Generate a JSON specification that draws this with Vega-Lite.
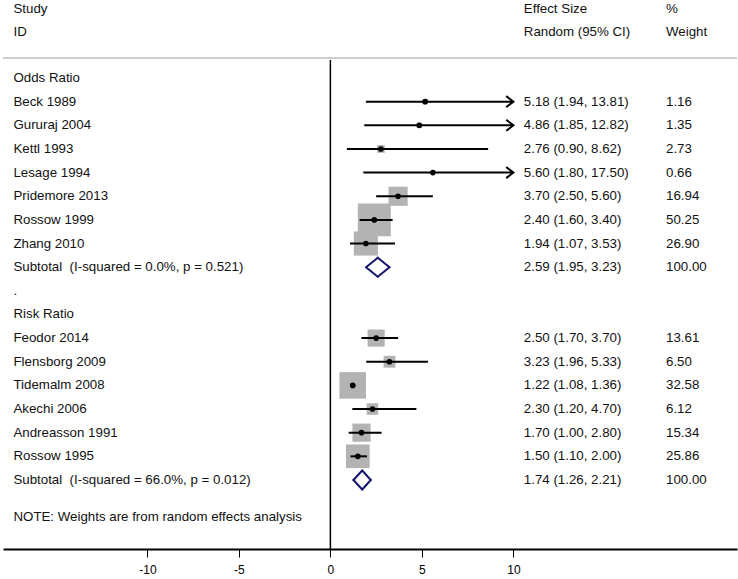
{
  "$schema": "https://vega.github.io/schema/vega-lite/v6.json",
  "width": 734,
  "height": 549,
  "padding": {"left": 2, "right": 2, "top": 0, "bottom": 0},
  "background": "white",
  "config": {"view": {"stroke": null}, "font": "Liberation Sans"},
  "datasets": {
    "rows": [
      {"label": "Study", "r": -1.9, "ci": "Effect Size", "wt": "%", "kind": "header"},
      {"label": "ID", "r": -0.95, "ci": "Random (95% CI)", "wt": "Weight", "kind": "header"},
      {"label": "Odds Ratio", "r": 1, "ci": "", "wt": "", "kind": "group"},
      {"label": "Beck 1989", "r": 2, "es": 5.18, "lower": 1.94, "upper": 13.81, "weight": 1.16, "ci": "5.18 (1.94, 13.81)", "wt": "1.16", "kind": "study"},
      {"label": "Gururaj 2004", "r": 3, "es": 4.86, "lower": 1.85, "upper": 12.82, "weight": 1.35, "ci": "4.86 (1.85, 12.82)", "wt": "1.35", "kind": "study"},
      {"label": "Kettl 1993", "r": 4, "es": 2.76, "lower": 0.90, "upper": 8.62, "weight": 2.73, "ci": "2.76 (0.90, 8.62)", "wt": "2.73", "kind": "study"},
      {"label": "Lesage 1994", "r": 5, "es": 5.60, "lower": 1.80, "upper": 17.50, "weight": 0.66, "ci": "5.60 (1.80, 17.50)", "wt": "0.66", "kind": "study"},
      {"label": "Pridemore 2013", "r": 6, "es": 3.70, "lower": 2.50, "upper": 5.60, "weight": 16.94, "ci": "3.70 (2.50, 5.60)", "wt": "16.94", "kind": "study"},
      {"label": "Rossow 1999", "r": 7, "es": 2.40, "lower": 1.60, "upper": 3.40, "weight": 50.25, "ci": "2.40 (1.60, 3.40)", "wt": "50.25", "kind": "study"},
      {"label": "Zhang 2010", "r": 8, "es": 1.94, "lower": 1.07, "upper": 3.53, "weight": 26.90, "ci": "1.94 (1.07, 3.53)", "wt": "26.90", "kind": "study"},
      {"label": "Subtotal \u00a0(I-squared = 0.0%, p = 0.521)", "r": 9, "es": 2.59, "lower": 1.95, "upper": 3.23, "weight": 100, "ci": "2.59 (1.95, 3.23)", "wt": "100.00", "kind": "subtotal"},
      {"label": ".", "r": 10, "ci": "", "wt": "", "kind": "group"},
      {"label": "Risk Ratio", "r": 11, "ci": "", "wt": "", "kind": "group"},
      {"label": "Feodor 2014", "r": 12, "es": 2.50, "lower": 1.70, "upper": 3.70, "weight": 13.61, "ci": "2.50 (1.70, 3.70)", "wt": "13.61", "kind": "study"},
      {"label": "Flensborg 2009", "r": 13, "es": 3.23, "lower": 1.96, "upper": 5.33, "weight": 6.50, "ci": "3.23 (1.96, 5.33)", "wt": "6.50", "kind": "study"},
      {"label": "Tidemalm 2008", "r": 14, "es": 1.22, "lower": 1.08, "upper": 1.36, "weight": 32.58, "ci": "1.22 (1.08, 1.36)", "wt": "32.58", "kind": "study"},
      {"label": "Akechi 2006", "r": 15, "es": 2.30, "lower": 1.20, "upper": 4.70, "weight": 6.12, "ci": "2.30 (1.20, 4.70)", "wt": "6.12", "kind": "study"},
      {"label": "Andreasson 1991", "r": 16, "es": 1.70, "lower": 1.00, "upper": 2.80, "weight": 15.34, "ci": "1.70 (1.00, 2.80)", "wt": "15.34", "kind": "study"},
      {"label": "Rossow 1995", "r": 17, "es": 1.50, "lower": 1.10, "upper": 2.00, "weight": 25.86, "ci": "1.50 (1.10, 2.00)", "wt": "25.86", "kind": "study"},
      {"label": "Subtotal \u00a0(I-squared = 66.0%, p = 0.012)", "r": 18, "es": 1.74, "lower": 1.26, "upper": 2.21, "weight": 100, "ci": "1.74 (1.26, 2.21)", "wt": "100.00", "kind": "subtotal"},
      {"label": "NOTE: Weights are from random effects analysis", "r": 19.57, "ci": "", "wt": "", "kind": "note"}
    ]
  },
  "data": {"name": "rows"},
  "layer": [
    {
      "data": {"values": [{"a": 1}]},
      "mark": {"type": "rule", "color": "#bdbdbd", "strokeWidth": 1.5},
      "encoding": {
        "x": {"datum": -17.89, "type": "quantitative",
              "scale": {"domain": [-17.89, 22.22], "nice": false, "zero": false},
              "axis": {"values": [-10, -5, 0, 5, 10], "title": null, "grid": false,
                       "domainColor": "#000000", "domainWidth": 2, "tickColor": "#000000",
                       "tickSize": 8, "tickWidth": 1, "labelFontSize": 12, "labelColor": "#000000",
                       "labelFont": "Liberation Sans", "labelPadding": 7, "labelFlush": false,
                       "labelExpr": "datum.value < 0 ? '-' + abs(datum.value) : '' + datum.value"}},
        "x2": {"datum": 22.22},
        "y": {"datum": 0.15, "type": "quantitative",
              "scale": {"domain": [-2.3, 20.92], "nice": false, "zero": false, "reverse": true},
              "axis": null}
      }
    },
    {
      "data": {"values": [{"a": 1}]},
      "mark": {"type": "rule", "color": "#000000", "strokeWidth": 1.5},
      "encoding": {
        "x": {"datum": 0, "type": "quantitative"},
        "y": {"datum": 0.24, "type": "quantitative"},
        "y2": {"datum": 20.92}
      }
    },
    {
      "transform": [{"filter": "datum.kind == 'study'"}],
      "mark": {"type": "point", "shape": "square", "filled": true, "color": "#b3b3b3", "opacity": 1},
      "encoding": {
        "x": {"field": "es", "type": "quantitative"},
        "y": {"field": "r", "type": "quantitative"},
        "size": {"field": "weight", "type": "quantitative",
                 "scale": {"type": "linear", "domain": [0, 100], "range": [0, 2160], "zero": true},
                 "legend": null}
      }
    },
    {
      "transform": [{"filter": "datum.kind == 'study' && datum.upper <= 10"}],
      "mark": {"type": "rule", "color": "#000000", "strokeWidth": 2},
      "encoding": {
        "x": {"field": "lower", "type": "quantitative"},
        "x2": {"field": "upper"},
        "y": {"field": "r", "type": "quantitative"}
      }
    },
    {
      "transform": [{"filter": "datum.kind == 'study' && datum.upper > 10"}],
      "mark": {"type": "rule", "color": "#000000", "strokeWidth": 2},
      "encoding": {
        "x": {"field": "lower", "type": "quantitative"},
        "x2": {"datum": 10},
        "y": {"field": "r", "type": "quantitative"}
      }
    },
    {
      "transform": [{"filter": "datum.kind == 'study' && datum.upper > 10"}],
      "mark": {"type": "point", "shape": "M-1.3,-1L0,0L-1.3,1", "filled": false, "color": "#000000",
               "strokeWidth": 2, "size": 121, "opacity": 1, "strokeJoin": "miter"},
      "encoding": {
        "x": {"datum": 10, "type": "quantitative"},
        "y": {"field": "r", "type": "quantitative"}
      }
    },
    {
      "transform": [{"filter": "datum.kind == 'study'"}],
      "mark": {"type": "point", "shape": "circle", "filled": true, "color": "#000000", "size": 32, "opacity": 1},
      "encoding": {
        "x": {"field": "es", "type": "quantitative"},
        "y": {"field": "r", "type": "quantitative"}
      }
    },
    {
      "transform": [{"filter": "datum.kind == 'subtotal'"}],
      "mark": {"type": "rule", "color": "#141470", "strokeWidth": 2, "strokeCap": "round", "y2Offset": -9.5},
      "encoding": {
        "x": {"field": "lower", "type": "quantitative"},
        "x2": {"field": "es"},
        "y": {"field": "r", "type": "quantitative"},
        "y2": {"field": "r"}
      }
    },
    {
      "transform": [{"filter": "datum.kind == 'subtotal'"}],
      "mark": {"type": "rule", "color": "#141470", "strokeWidth": 2, "strokeCap": "round", "y2Offset": 9.5},
      "encoding": {
        "x": {"field": "lower", "type": "quantitative"},
        "x2": {"field": "es"},
        "y": {"field": "r", "type": "quantitative"},
        "y2": {"field": "r"}
      }
    },
    {
      "transform": [{"filter": "datum.kind == 'subtotal'"}],
      "mark": {"type": "rule", "color": "#141470", "strokeWidth": 2, "strokeCap": "round", "y2Offset": -9.5},
      "encoding": {
        "x": {"field": "upper", "type": "quantitative"},
        "x2": {"field": "es"},
        "y": {"field": "r", "type": "quantitative"},
        "y2": {"field": "r"}
      }
    },
    {
      "transform": [{"filter": "datum.kind == 'subtotal'"}],
      "mark": {"type": "rule", "color": "#141470", "strokeWidth": 2, "strokeCap": "round", "y2Offset": 9.5},
      "encoding": {
        "x": {"field": "upper", "type": "quantitative"},
        "x2": {"field": "es"},
        "y": {"field": "r", "type": "quantitative"},
        "y2": {"field": "r"}
      }
    },
    {
      "mark": {"type": "text", "align": "left", "baseline": "middle", "fontSize": 13.3, "color": "#111111", "font": "Liberation Sans"},
      "encoding": {
        "x": {"datum": -17.32, "type": "quantitative"},
        "y": {"field": "r", "type": "quantitative"},
        "text": {"field": "label"}
      }
    },
    {
      "mark": {"type": "text", "align": "left", "baseline": "middle", "fontSize": 13.3, "color": "#111111", "font": "Liberation Sans"},
      "encoding": {
        "x": {"datum": 10.57, "type": "quantitative"},
        "y": {"field": "r", "type": "quantitative"},
        "text": {"field": "ci"}
      }
    },
    {
      "mark": {"type": "text", "align": "left", "baseline": "middle", "fontSize": 13.3, "color": "#111111", "font": "Liberation Sans"},
      "encoding": {
        "x": {"datum": 18.34, "type": "quantitative"},
        "y": {"field": "r", "type": "quantitative"},
        "text": {"field": "wt"}
      }
    }
  ]
}
